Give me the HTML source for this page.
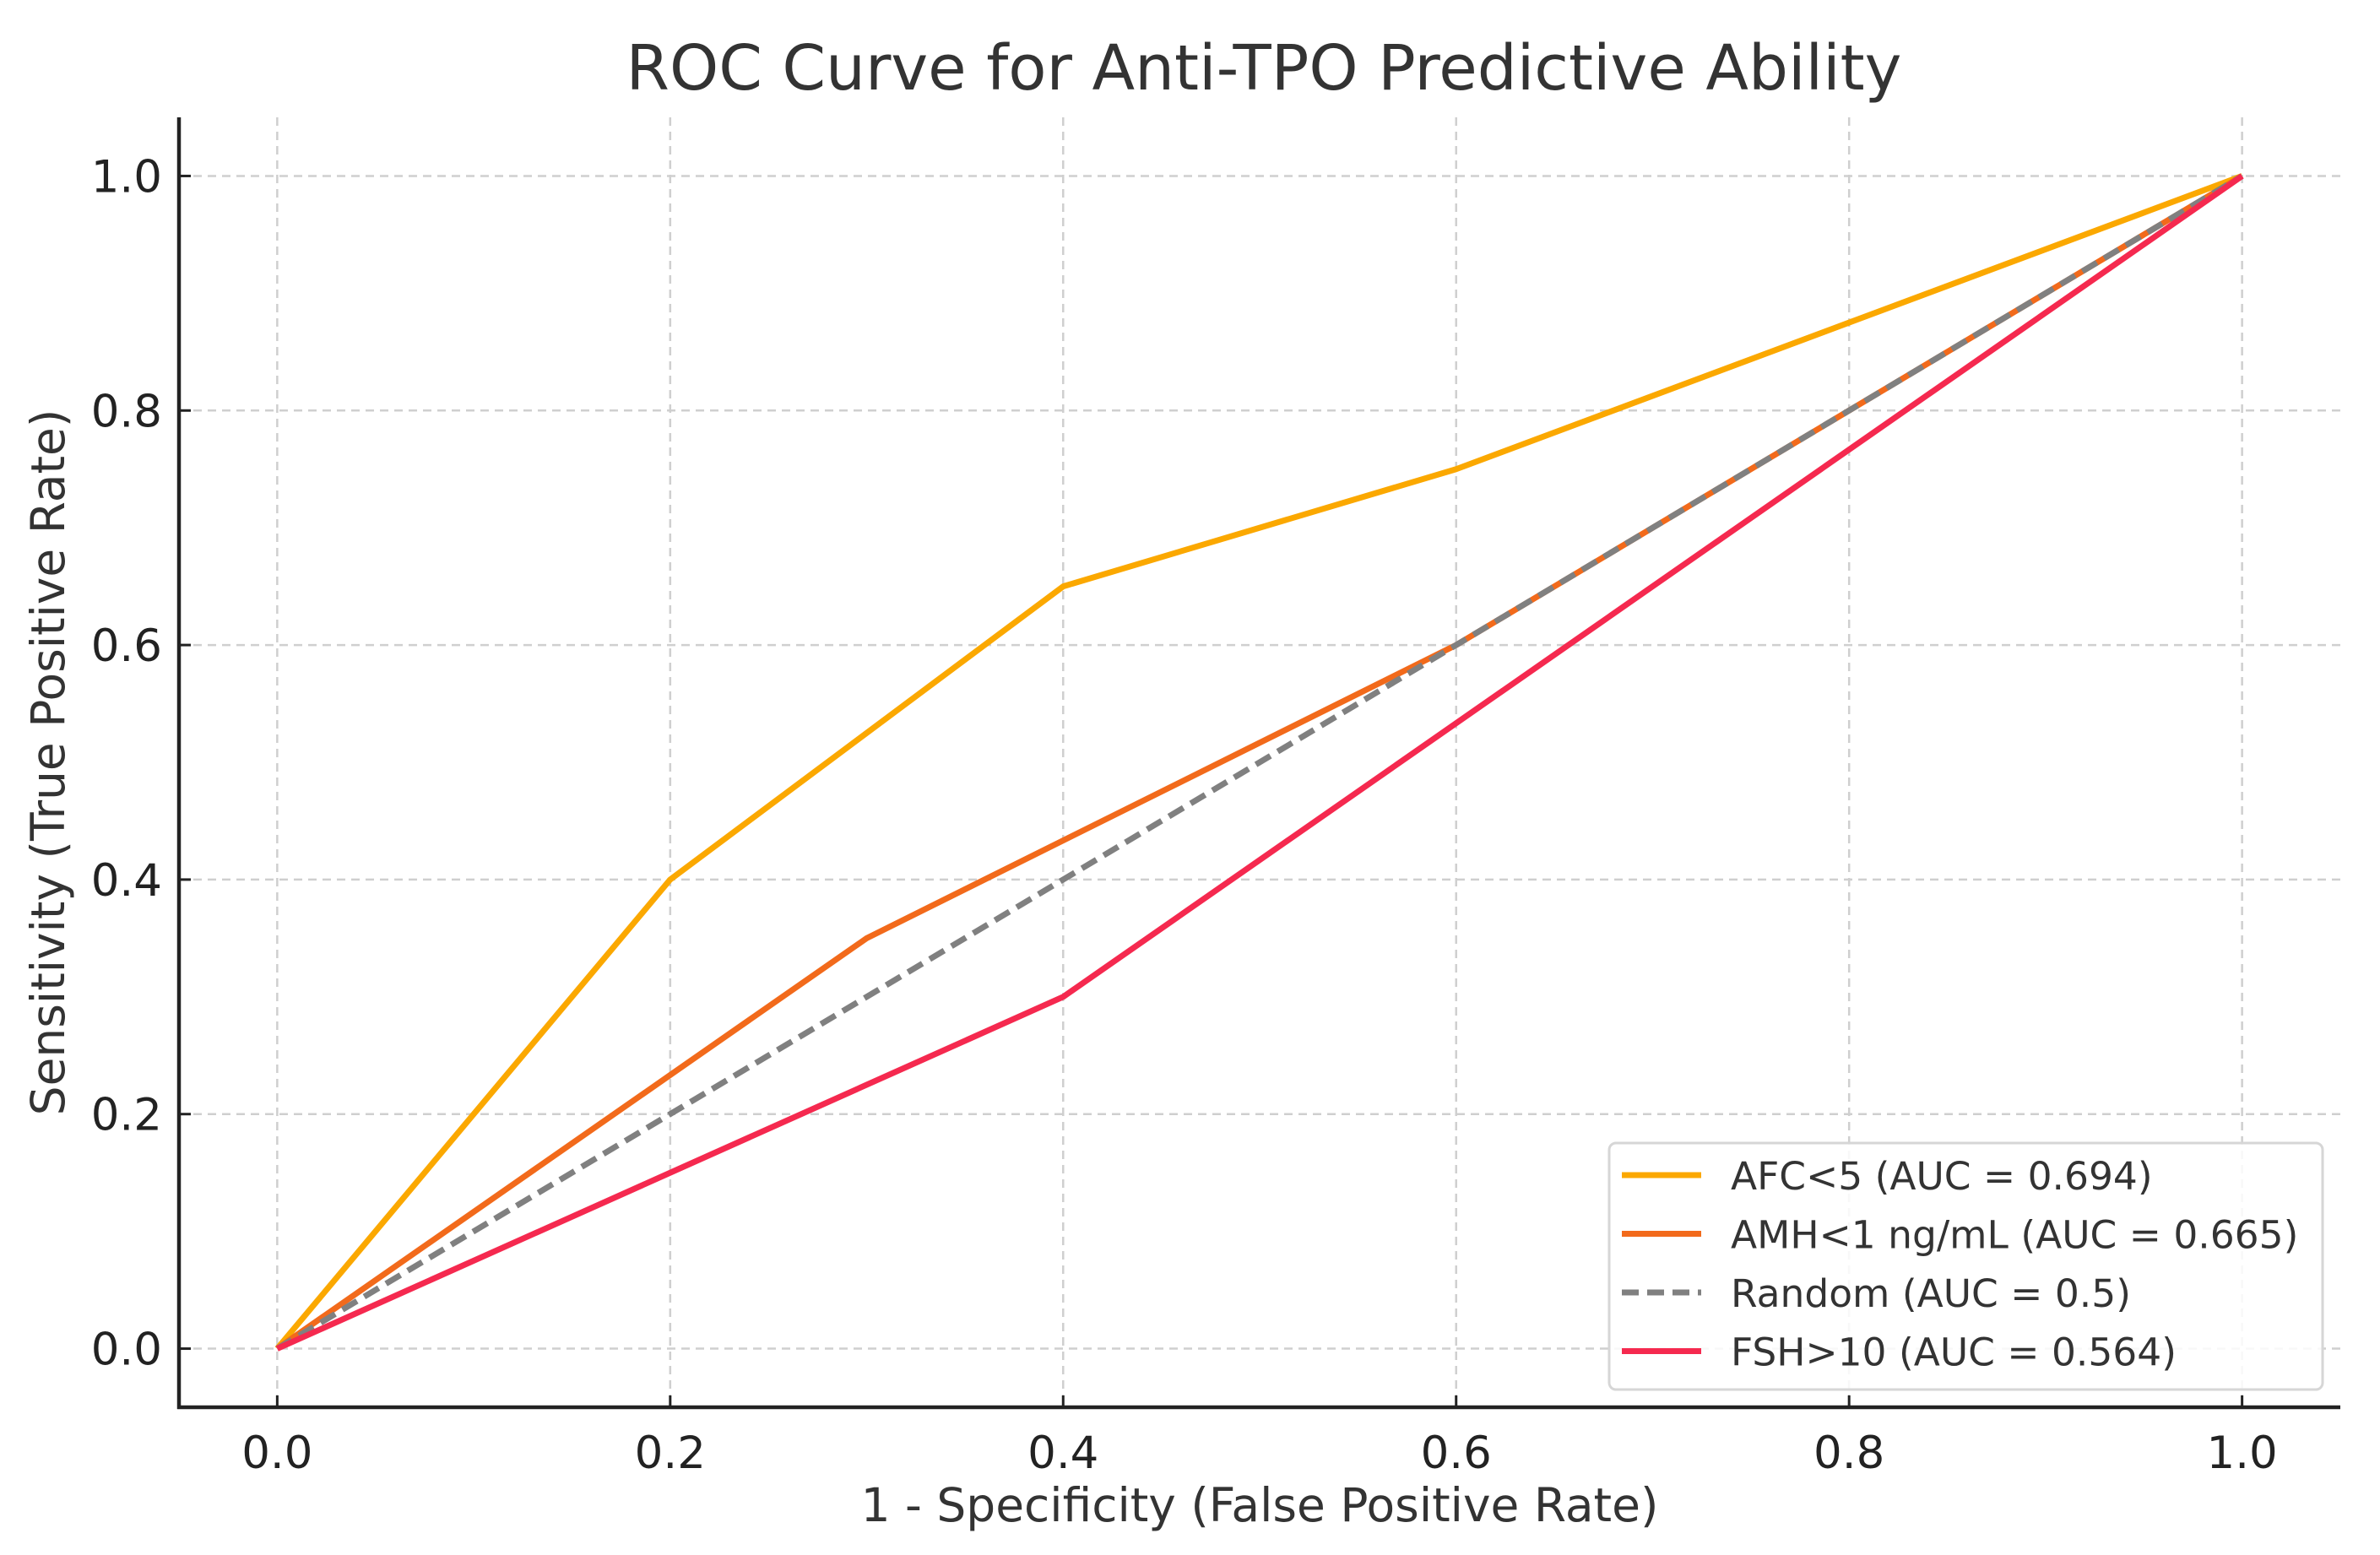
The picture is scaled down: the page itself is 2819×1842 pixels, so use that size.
<!DOCTYPE html>
<html><head><meta charset="utf-8"><style>
html,body{margin:0;padding:0;background:#fff;}
svg{display:block;font-family:"DejaVu Sans","Liberation Sans",sans-serif;}
</style></head><body>
<svg id="chart" width="2819" height="1842" viewBox="0 0 2819 1842" xmlns="http://www.w3.org/2000/svg">
<rect width="2819" height="1842" fill="#fff"/>
<g id="grid"></g>
<g id="series"></g>
<g id="axes"></g>
<text x="1497" y="106" text-anchor="middle" font-size="74" fill="#333">ROC Curve for Anti-TPO Predictive Ability</text>
<text x="1492" y="1802" text-anchor="middle" font-size="55" fill="#333">1 - Specificity (False Positive Rate)</text>
<text transform="translate(76,903) rotate(-90)" text-anchor="middle" font-size="55" fill="#333">Sensitivity (True Positive Rate)</text>
<g id="legend"></g>
</svg>
<script>
const xTicks = [0, 0.2, 0.4, 0.6, 0.8, 1.0];
const yTicks = [0, 0.2, 0.4, 0.6, 0.8, 1.0];
const tickLabels = ["0.0", "0.2", "0.4", "0.6", "0.8", "1.0"];
const seriesNames = ["AFC<5 (AUC = 0.694)", "AMH<1 ng/mL (AUC = 0.665)", "Random (AUC = 0.5)", "FSH>10 (AUC = 0.564)"];
const afcX = [0, 0.2, 0.4, 0.6, 1.0];
const afcY = [0, 0.4, 0.65, 0.75, 1.0];
const amhX = [0, 0.3, 0.6, 1.0];
const amhY = [0, 0.35, 0.6, 1.0];
const randX = [0, 1.0];
const randY = [0, 1.0];
const fshX = [0, 0.4, 1.0];
const fshY = [0, 0.3, 1.0];

const NS = "http://www.w3.org/2000/svg";
const L = 212, R = 2772, T = 139, B = 1667;
function sx(v){ return L + (v + 0.05) / 1.1 * (R - L); }
function sy(v){ return B - (v + 0.05) / 1.1 * (B - T); }
function mk(tag, attrs, parent){ const e = document.createElementNS(NS, tag); for (const k in attrs) e.setAttribute(k, attrs[k]); parent.appendChild(e); return e; }

const grid = document.getElementById('grid');
xTicks.forEach((v, i) => {
  const l = mk('line', {x1: sx(v), x2: sx(v), y1: T, y2: B, stroke: '#cfcfcf', 'stroke-width': 2.5, 'stroke-dasharray': '10,7'}, grid);
  
  
});
yTicks.forEach((v, i) => {
  const l = mk('line', {x1: L, x2: R, y1: sy(v), y2: sy(v), stroke: '#cfcfcf', 'stroke-width': 2.5, 'stroke-dasharray': '10,7'}, grid);
  
  
});

const seriesG = document.getElementById('series');
const defs = [
  {x: afcX, y: afcY, c: '#fba800', dash: null, n: 'afc-line'},
  {x: amhX, y: amhY, c: '#f26a1b', dash: null, n: 'amh-line'},
  {x: randX, y: randY, c: '#808080', dash: '20,10', n: 'random-line'},
  {x: fshX, y: fshY, c: '#f5294f', dash: null, n: 'fsh-line'}
];
defs.forEach(d => {
  const pts = d.x.map((v, i) => sx(v) + ',' + sy(d.y[i])).join(' ');
  const p = mk('polyline', {points: pts, fill: 'none', stroke: d.c, 'stroke-width': 7, 'stroke-linejoin': 'round'}, seriesG);
  if (d.dash) p.setAttribute('stroke-dasharray', d.dash);
  
  
});

const axes = document.getElementById('axes');
const ya = mk('line', {x1: L, x2: L, y1: T, y2: B + 2, stroke: '#222', 'stroke-width': 4.5}, axes);


const xa = mk('line', {x1: L - 2, x2: R, y1: B, y2: B, stroke: '#222', 'stroke-width': 4.5}, axes);


xTicks.forEach((v, i) => {
  const t = mk('line', {x1: sx(v), x2: sx(v), y1: B, y2: B - 14, stroke: '#222', 'stroke-width': 3}, axes);
  
  
  const tx = mk('text', {x: sx(v), y: B + 72, 'text-anchor': 'middle', 'font-size': 53, fill: '#222'}, axes);
  tx.textContent = tickLabels[i];
  
  
});
yTicks.forEach((v, i) => {
  const t = mk('line', {x1: L, x2: L + 14, y1: sy(v), y2: sy(v), stroke: '#222', 'stroke-width': 3}, axes);
  
  
  const tx = mk('text', {x: L - 20, y: sy(v) + 19, 'text-anchor': 'end', 'font-size': 53, fill: '#222'}, axes);
  tx.textContent = tickLabels[i];
  
  
});

const lg = document.getElementById('legend');
const box = mk('rect', {x: 1906, y: 1354, width: 845, height: 292, rx: 8, fill: 'rgba(255,255,255,0.85)', stroke: '#d6d6d6', 'stroke-width': 3}, lg);


defs.forEach((d, i) => {
  const yy = 1392 + i * 69.5;
  const ln = mk('line', {x1: 1921, x2: 2015, y1: yy, y2: yy, stroke: d.c, 'stroke-width': 7}, lg);
  if (d.dash) ln.setAttribute('stroke-dasharray', '20,10');
  
  
  const tx = mk('text', {x: 2050, y: yy + 17, 'font-size': 45.5, fill: '#333'}, lg);
  tx.textContent = seriesNames[i];
  
  
});
</script>
</body></html>
